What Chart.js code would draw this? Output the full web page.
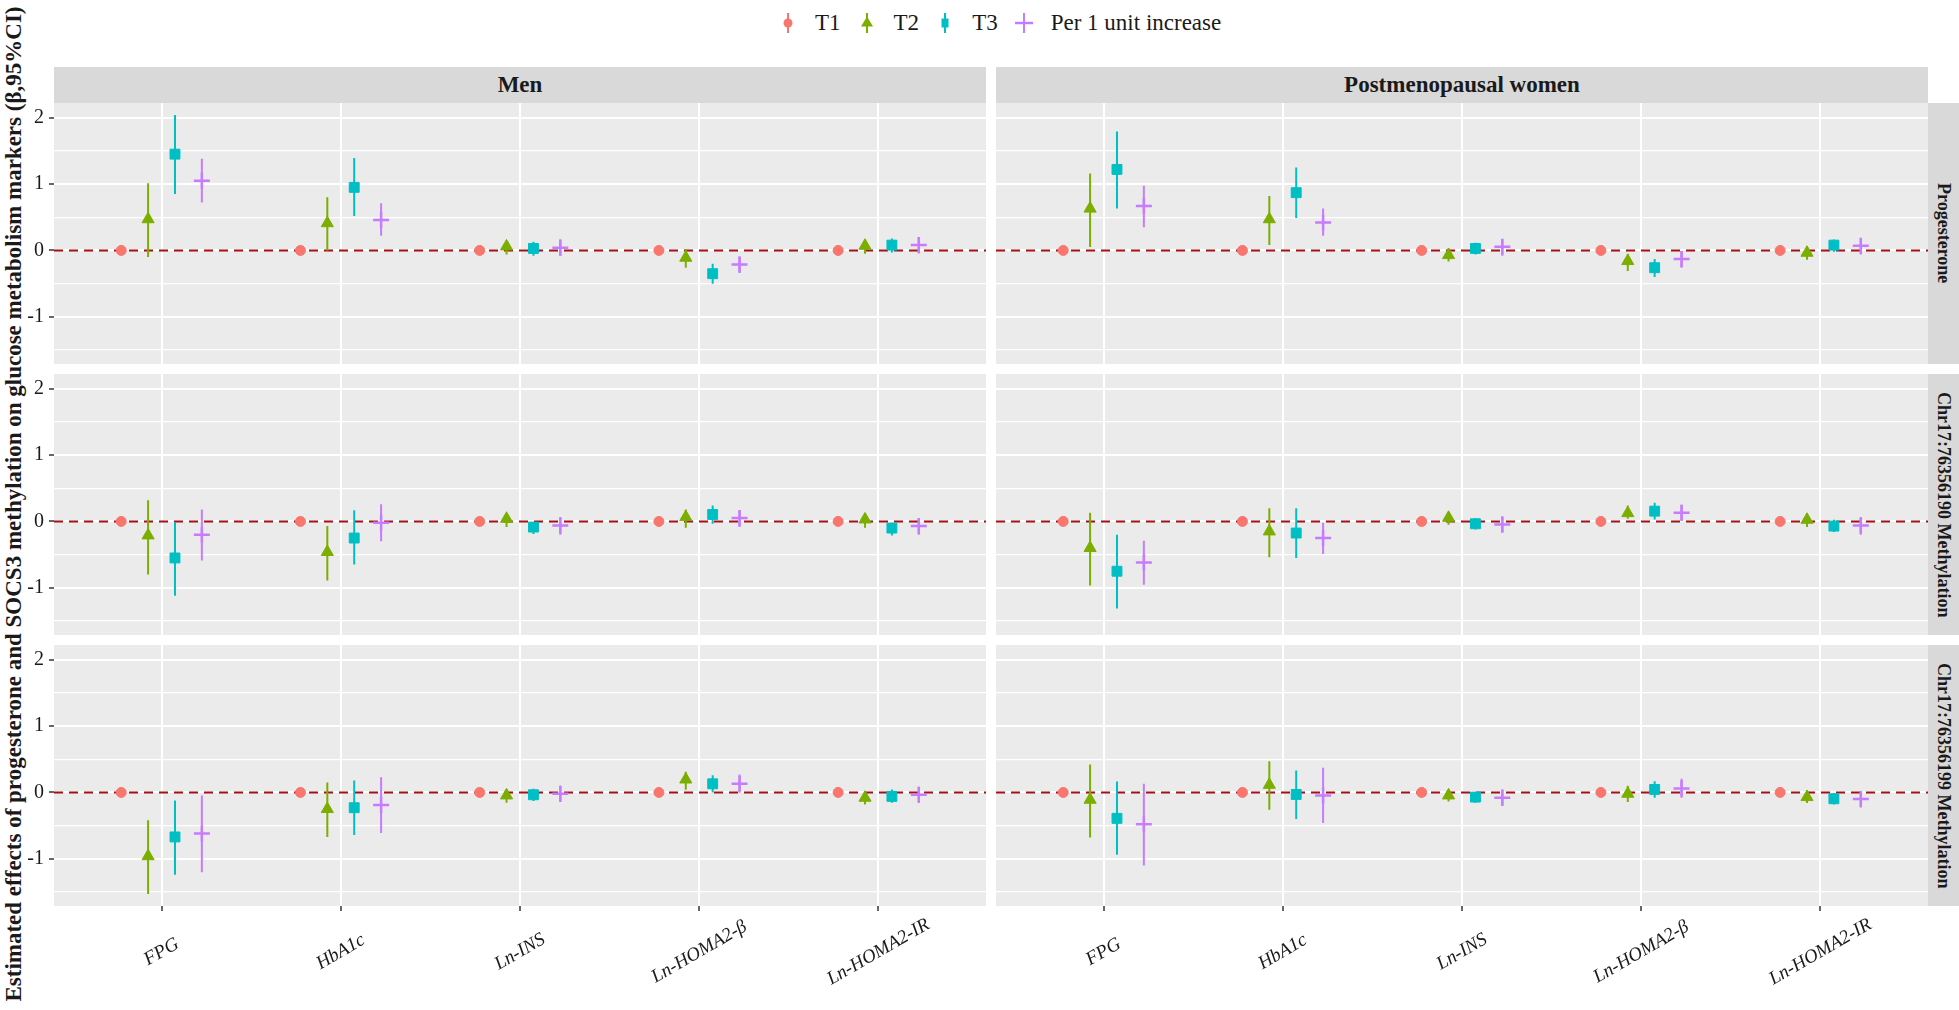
<!DOCTYPE html>
<html>
<head>
<meta charset="utf-8">
<script src="https://cdn.jsdelivr.net/npm/chart.js@4.4.1/dist/chart.umd.min.js"></script>
<style>
  body { margin: 0; width: 1959px; height: 1010px; overflow: hidden; background: #fff; position: relative;
         font-family: "Liberation Serif", "Times New Roman", serif; color: #1a1a1a; }
  canvas { position: absolute; }
  .strip { position: absolute; background: #D9D9D9; display: flex; align-items: center; justify-content: center;
           font-weight: bold; white-space: nowrap; }
  .strip.top { font-size: 23px; }
  .strip.side { font-size: 18px; }
  .strip.side span { writing-mode: vertical-rl; }
  #ytitle { position: absolute; left: 14px; top: 504px; transform: translate(-50%, -50%) rotate(-90deg);
            white-space: nowrap; font-weight: bold; font-size: 23px; }
  #legend { position: absolute; top: 10px; left: 773px; display: flex; align-items: center; font-size: 23px; height: 26px; }
  #legend .key { width: 30px; height: 26px; }
  #legend .lab { margin: 0 11px 0 12px; }
</style>
</head>
<body>
<div id="legend"></div>
<div id="ytitle">Estimated effects of progesterone and SOCS3 methylation on glucose metabolism markers (β,95%CI)</div>
<script>
const categories = ['FPG', 'HbA1c', 'Ln-INS', 'Ln-HOMA2-β', 'Ln-HOMA2-IR'];
const seriesNames = ['T1', 'T2', 'T3', 'Per 1 unit increase'];
const seriesColors = ['#F8766D', '#7CAE00', '#00BFC4', '#C77CFF'];
const seriesShapes = ['circle', 'triangle', 'rect', 'cross'];
const columnLabels = ['Men', 'Postmenopausal women'];
const rowLabels = ['Progesterone', 'Chr17:76356190 Methylation', 'Chr17:76356199 Methylation'];
const yTicks = [-1.5, -1, -0.5, 0, 0.5, 1, 1.5, 2];

// T1 is the reference group
const t1Ref = [0, 0, 0, 0, 0];

// [estimate, lower, upper] for FPG, HbA1c, Ln-INS, Ln-HOMA2-β, Ln-HOMA2-IR
const progMenT2 = [[0.47, -0.10, 1.01], [0.41, 0.00, 0.80], [0.06, -0.06, 0.14], [-0.11, -0.26, 0.02], [0.07, -0.05, 0.14]];
const progMenT3 = [[1.45, 0.85, 2.04], [0.95, 0.52, 1.39], [0.03, -0.08, 0.13], [-0.35, -0.50, -0.20], [0.08, -0.03, 0.18]];
const progMenPer = [[1.05, 0.72, 1.38], [0.46, 0.22, 0.71], [0.04, -0.08, 0.17], [-0.21, -0.34, -0.09], [0.08, -0.045, 0.20]];

const progWomT2 = [[0.63, 0.05, 1.16], [0.47, 0.08, 0.82], [-0.07, -0.165, 0.03], [-0.16, -0.31, -0.05], [-0.035, -0.14, 0.055]];
const progWomT3 = [[1.22, 0.63, 1.79], [0.87, 0.49, 1.25], [0.03, -0.06, 0.115], [-0.26, -0.40, -0.13], [0.08, -0.02, 0.165]];
const progWomPer = [[0.67, 0.35, 0.975], [0.42, 0.22, 0.63], [0.055, -0.08, 0.17], [-0.13, -0.26, -0.01], [0.07, -0.06, 0.185]];

const m190MenT2 = [[-0.21, -0.80, 0.32], [-0.46, -0.89, -0.07], [0.04, -0.085, 0.12], [0.065, -0.095, 0.18], [0.03, -0.095, 0.115]];
const m190MenT3 = [[-0.55, -1.12, -0.01], [-0.25, -0.65, 0.17], [-0.085, -0.19, -0.01], [0.105, -0.035, 0.24], [-0.10, -0.21, -0.02]];
const m190MenPer = [[-0.20, -0.59, 0.18], [-0.02, -0.30, 0.26], [-0.06, -0.20, 0.065], [0.05, -0.085, 0.165], [-0.07, -0.20, 0.05]];

const m190WomT2 = [[-0.40, -0.965, 0.13], [-0.15, -0.54, 0.20], [0.055, -0.05, 0.14], [0.125, 0.04, 0.24], [0.025, -0.085, 0.115]];
const m190WomT3 = [[-0.75, -1.31, -0.20], [-0.175, -0.55, 0.20], [-0.035, -0.12, 0.05], [0.155, 0.03, 0.28], [-0.07, -0.16, 0.025]];
const m190WomPer = [[-0.62, -0.955, -0.29], [-0.25, -0.49, -0.02], [-0.045, -0.17, 0.075], [0.13, 0.005, 0.25], [-0.06, -0.20, 0.065]];

const m199MenT2 = [[-0.96, -1.53, -0.42], [-0.25, -0.67, 0.15], [-0.045, -0.155, 0.05], [0.195, 0.04, 0.31], [-0.08, -0.18, 0.01]];
const m199MenT3 = [[-0.67, -1.24, -0.12], [-0.23, -0.64, 0.18], [-0.035, -0.13, 0.055], [0.13, 0.00, 0.26], [-0.06, -0.155, 0.045]];
const m199MenPer = [[-0.62, -1.20, -0.045], [-0.19, -0.61, 0.23], [-0.02, -0.145, 0.10], [0.13, -0.005, 0.27], [-0.035, -0.155, 0.085]];

const m199WomT2 = [[-0.11, -0.68, 0.42], [0.115, -0.26, 0.47], [-0.045, -0.135, 0.045], [-0.02, -0.145, 0.10], [-0.07, -0.16, 0.03]];
const m199WomT3 = [[-0.39, -0.94, 0.165], [-0.03, -0.40, 0.33], [-0.07, -0.155, 0.005], [0.045, -0.08, 0.17], [-0.095, -0.18, -0.01]];
const m199WomPer = [[-0.48, -1.10, 0.13], [-0.045, -0.46, 0.37], [-0.08, -0.205, 0.045], [0.06, -0.08, 0.205], [-0.10, -0.225, 0.02]];

const panelData = [
  [[progMenT2, progMenT3, progMenPer], [progWomT2, progWomT3, progWomPer]],
  [[m190MenT2, m190MenT3, m190MenPer], [m190WomT2, m190WomT3, m190WomPer]],
  [[m199MenT2, m199MenT3, m199MenPer], [m199WomT2, m199WomT3, m199WomPer]]
];

// layout (px)
const colLeft = [54, 996], panelW = 932;
const rowTop = [103, 374, 645], panelH = 261;
const yAxisW = 54, xAxisH = 100;
const dodge = [-0.225, -0.075, 0.075, 0.225];
const pointSizes = [5, 7, 7, 8];

const panelBg = {
  id: 'panelBg',
  beforeDraw(chart) {
    const { ctx, chartArea: a } = chart;
    ctx.save();
    ctx.fillStyle = '#EBEBEB';
    ctx.fillRect(a.left, a.top, a.right - a.left, a.bottom - a.top);
    ctx.restore();
  }
};

// rotated, centred category labels under the bottom panels
const xLabels = {
  id: 'xLabels',
  afterDraw(chart) {
    const { ctx, chartArea, scales } = chart;
    ctx.save();
    ctx.font = 'italic 19px "Liberation Serif"';
    ctx.fillStyle = '#1a1a1a';
    ctx.textAlign = 'center';
    ctx.textBaseline = 'middle';
    categories.forEach((lab, i) => {
      ctx.save();
      ctx.translate(scales.x.getPixelForValue(i), chartArea.bottom + 46);
      ctx.rotate(-Math.PI / 6);
      ctx.fillText(lab, 0, 0);
      ctx.restore();
    });
    ctx.restore();
  }
};

function makePanel(r, c) {
  const bottom = r === rowLabels.length - 1;
  const left = c === 0 ? colLeft[c] - yAxisW : colLeft[c];
  const canvas = document.createElement('canvas');
  canvas.width = panelW + (c === 0 ? yAxisW : 0);
  canvas.height = panelH + (bottom ? xAxisH : 0);
  canvas.style.left = left + 'px';
  canvas.style.top = rowTop[r] + 'px';
  document.body.appendChild(canvas);

  const groups = [t1Ref.map(v => [v, null, null])].concat(panelData[r][c]);
  const datasets = [{
    data: [{ x: -0.6, y: 0 }, { x: 4.6, y: 0 }],
    showLine: true, borderColor: '#A50F15', borderWidth: 2, borderDash: [9, 6],
    pointRadius: 0, order: 3
  }];
  groups.forEach((rows, s) => {
    if (s > 0) {
      datasets.push({
        data: rows.flatMap((d, i) => [
          { x: i + dodge[s], y: d[1] }, { x: i + dodge[s], y: d[2] }, { x: i + dodge[s], y: null }
        ]),
        showLine: true, spanGaps: false, borderColor: seriesColors[s], borderWidth: 2,
        pointRadius: 0, order: 2
      });
    }
    datasets.push({
      data: rows.map((d, i) => ({ x: i + dodge[s], y: d[0] })),
      pointStyle: seriesShapes[s], pointRadius: pointSizes[s],
      backgroundColor: seriesColors[s], borderColor: seriesColors[s],
      borderWidth: s === 3 ? 2.5 : 1, order: 1
    });
  });

  const isMajor = ctx => ctx.tick && Number.isInteger(ctx.tick.value);
  new Chart(canvas, {
    type: 'scatter',
    data: { datasets },
    options: {
      responsive: false, animation: false, devicePixelRatio: 1, events: [],
      layout: { padding: 0, autoPadding: false },
      plugins: { legend: { display: false }, tooltip: { enabled: false } },
      scales: {
        x: {
          type: 'linear', min: -0.6, max: 4.6,
          afterBuildTicks: s => { s.ticks = categories.map((_, i) => ({ value: i })); },
          afterFit: s => { s.height = bottom ? xAxisH : 0; s.paddingLeft = 0; s.paddingRight = 0; },
          ticks: { display: false },
          border: { display: false },
          grid: { color: '#fff', lineWidth: 2, drawTicks: bottom, tickLength: 5, tickColor: '#333', tickWidth: 1.5 }
        },
        y: {
          min: -1.71, max: 2.22,
          afterBuildTicks: s => { s.ticks = yTicks.map(v => ({ value: v })); },
          afterFit: s => { s.width = c === 0 ? yAxisW : 0; s.paddingTop = 0; s.paddingBottom = 0; },
          ticks: {
            display: c === 0, autoSkip: false, padding: 5, color: '#1a1a1a',
            font: { family: 'Liberation Serif', size: 20 },
            callback: v => Number.isInteger(v) ? String(v) : ''
          },
          border: { display: false },
          grid: {
            color: '#fff', lineWidth: ctx => isMajor(ctx) ? 2 : 1.2,
            drawTicks: c === 0, tickLength: 5, tickWidth: 1.5,
            tickColor: ctx => isMajor(ctx) ? '#333' : 'rgba(0,0,0,0)'
          }
        }
      }
    },
    plugins: bottom ? [panelBg, xLabels] : [panelBg]
  });
}

function addStrip(text, x, y, w, h, cls) {
  const d = document.createElement('div');
  d.className = 'strip ' + cls;
  Object.assign(d.style, { left: x + 'px', top: y + 'px', width: w + 'px', height: h + 'px' });
  d.innerHTML = '<span></span>';
  d.firstChild.textContent = text;
  document.body.appendChild(d);
}

columnLabels.forEach((t, c) => addStrip(t, colLeft[c], 67, panelW, 36, 'top'));
rowLabels.forEach((t, r) => addStrip(t, colLeft[1] + panelW, rowTop[r], 31, panelH, 'side'));

rowLabels.forEach((_, r) => columnLabels.forEach((_, c) => makePanel(r, c)));

// legend keys: point with a vertical range line, as in a pointrange legend
const legend = document.getElementById('legend');
seriesNames.forEach((name, s) => {
  const col = seriesColors[s];
  let shape;
  if (s === 0) shape = `<circle cx="15" cy="13" r="4.5" fill="${col}"/>`;
  else if (s === 1) shape = `<polygon points="15,6.5 21,16.5 9,16.5" fill="${col}"/>`;
  else if (s === 2) shape = `<rect x="11.5" y="8.5" width="7" height="9" fill="${col}"/>`;
  else shape = `<line x1="6" y1="13" x2="24" y2="13" stroke="${col}" stroke-width="2.5"/>`;
  legend.insertAdjacentHTML('beforeend',
    `<svg class="key" viewBox="0 0 30 26"><line x1="15" y1="3" x2="15" y2="23" stroke="${col}" stroke-width="2"/>${shape}</svg>` +
    `<span class="lab"></span>`);
  legend.lastChild.textContent = name;
});
</script>
</body>
</html>
